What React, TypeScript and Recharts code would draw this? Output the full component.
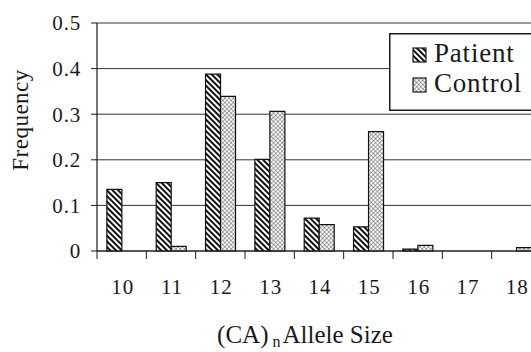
import { BarChart, Bar, XAxis, YAxis, CartesianGrid } from 'recharts';

// allele sizes (CA repeats) and frequencies
const alleleSizes = ['10', '11', '12', '13', '14', '15', '16', '17', '18'];
const patientFreq = [0.135, 0.15, 0.388, 0.201, 0.072, 0.053, 0.004, 0, 0];
const controlFreq = [0, 0.01, 0.339, 0.306, 0.058, 0.262, 0.0125, 0, 0.0075];
const yTicks = [0, 0.1, 0.2, 0.3, 0.4, 0.5];
const seriesNames = ['Patient', 'Control'];

const data = alleleSizes.map((size, i) => ({
  size,
  patient: patientFreq[i],
  control: controlFreq[i],
}));

const FONT = '"Liberation Serif", "Times New Roman", Times, serif';
const INK = '#1a1a1a';
const CHART_W = 545;
const CHART_H = 352;
const MARGIN = { top: 23, right: 4, left: 0, bottom: 0 };
const Y_AXIS_W = 97;
const X_AXIS_H = 101;
const PLOT_BOTTOM = CHART_H - X_AXIS_H;
const STEP = (CHART_W - MARGIN.left - MARGIN.right - Y_AXIS_W) / alleleSizes.length;

function Patterns({ prefix }: { prefix: string }) {
  return (
    <defs>
      <pattern id={`${prefix}-stripe`} patternUnits="userSpaceOnUse" width="4" height="4" patternTransform="rotate(-45)">
        <rect width="4" height="4" fill="#fff" />
        <rect width="2" height="4" fill="#111" />
      </pattern>
      <pattern id={`${prefix}-hatch`} patternUnits="userSpaceOnUse" width="3" height="3" patternTransform="rotate(45)">
        <rect width="3" height="3" fill="#fff" />
        <line x1="0" y1="0" x2="0" y2="3" stroke="#444" strokeWidth="0.9" />
        <line x1="0" y1="0" x2="3" y2="0" stroke="#444" strokeWidth="0.9" />
      </pattern>
    </defs>
  );
}

// category label plus a tick mark on the left edge of each band
const AlleleTick = ({ x, payload }: any) => (
  <g>
    <line x1={x - STEP / 2} y1={PLOT_BOTTOM} x2={x - STEP / 2} y2={PLOT_BOTTOM + 8} stroke={INK} strokeWidth={1} />
    <text x={x + 1} y={PLOT_BOTTOM + 43} textAnchor="middle" style={{ fontFamily: FONT }} fontSize={21} letterSpacing={1} fill={INK}>
      {payload.value}
    </text>
  </g>
);

const XTitle = () => (
  <text x={305} y={343} textAnchor="middle" style={{ fontFamily: FONT }} fontSize={25} fill={INK}>
    (CA)
    <tspan fontSize={16} dx={4} dy={4}>n</tspan>
    <tspan dx={2} dy={-4}>Allele Size</tspan>
  </text>
);

const YTitle = () => (
  <text x={28} y={120} transform="rotate(-90 28 120)" textAnchor="middle" style={{ fontFamily: FONT }} fontSize={23} letterSpacing={0.5} fill={INK}>
    Frequency
  </text>
);

// framed legend box at the upper right, running off the edge like the original
const LegendBox = () => (
  <svg width={150} height={78} style={{ position: 'absolute', left: 389, top: 33 }}>
    <Patterns prefix="lg" />
    <rect x={0.75} y={0.75} width={160} height={76.5} fill="#fff" stroke={INK} strokeWidth={1.5} />
    {seriesNames.map((name, i) => (
      <g key={name}>
        <rect x={24} y={15 + i * 30} width={13} height={14} fill={i === 0 ? 'url(#lg-stripe)' : 'url(#lg-hatch)'} stroke={INK} strokeWidth={1.2} />
        <text x={45} y={29 + i * 30} style={{ fontFamily: FONT }} fontSize={27} letterSpacing={0.8} fill={INK}>
          {name}
        </text>
      </g>
    ))}
  </svg>
);

export default function App() {
  return (
    <div style={{ position: 'absolute', left: 0, top: 0, width: 531, height: 352, overflow: 'hidden', background: '#fff', fontFamily: FONT }}>
      <BarChart width={CHART_W} height={CHART_H} data={data} margin={MARGIN} barGap={0} barCategoryGap="20%">
        <Patterns prefix="ch" />
        <CartesianGrid vertical={false} stroke="#333" strokeWidth={1} />
        <XAxis
          dataKey="size"
          height={X_AXIS_H}
          axisLine={{ stroke: INK, strokeWidth: 1.2 }}
          tickLine={false}
          tick={<AlleleTick />}
          interval={0}
          label={<XTitle />}
        />
        <YAxis
          width={Y_AXIS_W}
          domain={[0, 0.5]}
          ticks={yTicks}
          tickSize={6}
          tickMargin={10}
          axisLine={{ stroke: INK, strokeWidth: 1.2 }}
          tickLine={{ stroke: INK }}
          tick={{ style: { fontFamily: FONT }, fontSize: 21, letterSpacing: 0.8, fill: INK }}
          tickFormatter={(v: number) => (v === 0 ? '0' : v.toFixed(1))}
          label={<YTitle />}
        />
        <Bar dataKey="patient" name="Patient" fill="url(#ch-stripe)" stroke="#111" strokeWidth={1.2} isAnimationActive={false} />
        <Bar dataKey="control" name="Control" fill="url(#ch-hatch)" stroke="#111" strokeWidth={1.2} isAnimationActive={false} />
      </BarChart>
      <LegendBox />
    </div>
  );
}
